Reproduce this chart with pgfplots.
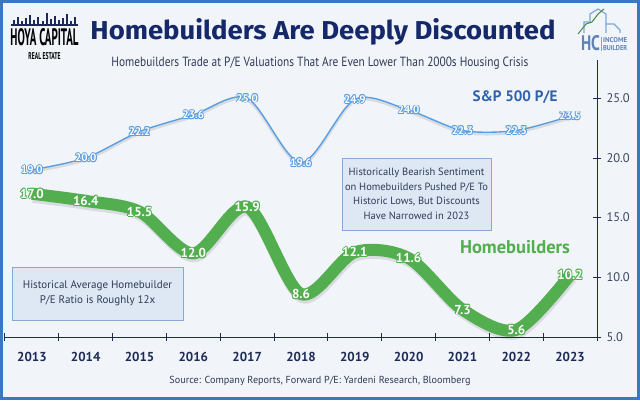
\documentclass[border=0pt]{standalone}
\usepackage{pgfplots}
\pgfplotsset{compat=1.18}
\usepackage{graphicx}
\usepackage{fontspec}
\setmainfont{PT Sans}
\newfontfamily\titlefont{Fira Sans}
\definecolor{navy}{HTML}{15296A}
\definecolor{ticknavy}{HTML}{1C2A55}
\definecolor{spblue}{HTML}{5A9EE2}
\definecolor{spdark}{HTML}{2E62AD}
\definecolor{hbgreen}{HTML}{52AE4E}
\definecolor{bg}{HTML}{F1F4F9}
\definecolor{framec}{HTML}{3B78C4}
\definecolor{boxfill}{HTML}{DEE8F5}
\definecolor{boxdraw}{HTML}{86A9D6}
\definecolor{txt}{HTML}{2E3A55}
\definecolor{ylab}{HTML}{3A4560}
\definecolor{logoblue}{HTML}{7FA8D8}

\newcommand\hshift[4]{\makebox[0pt]{\hspace*{#1}\raisebox{#2}{\textcolor{#3}{#4}}\hspace*{-#1}}}
\newcommand\halo[2]{%
  \hshift{0.9pt}{0pt}{#1}{#2}\hshift{-0.9pt}{0pt}{#1}{#2}%
  \hshift{0pt}{0.9pt}{#1}{#2}\hshift{0pt}{-0.9pt}{#1}{#2}%
  \hshift{0.65pt}{0.65pt}{#1}{#2}\hshift{-0.65pt}{0.65pt}{#1}{#2}%
  \hshift{0.65pt}{-0.65pt}{#1}{#2}\hshift{-0.65pt}{-0.65pt}{#1}{#2}%
  \makebox[0pt]{\textcolor{white}{#2}}}

\begin{document}
\begin{tikzpicture}[x=1pt,y=1pt]
\fill[bg] (0,0) rectangle (640,400);
\draw[framec, line width=3pt] (1.5,1.5) rectangle (638.5,398.5);

\begin{axis}[
  at={(5pt,63pt)}, anchor=south west,
  scale only axis, width=592pt, height=277pt,
  xmin=-0.5, xmax=10.5, ymin=5, ymax=28.2,
  axis x line*=bottom, axis y line*=right,
  axis line style={ticknavy, line width=1pt},
  clip=false,
  xtick={0,...,10},
  xticklabels={2013,2014,2015,2016,2017,2018,2019,2020,2021,2022,2023},
  minor xtick={-0.5,0.5,1.5,2.5,3.5,4.5,5.5,6.5,7.5,8.5,9.5,10.5},
  major x tick style={draw=none},
  minor tick length=8pt,
  minor x tick style={ticknavy, line width=1pt},
  tick align=center,
  major tick length=8pt,
  ytick={5,10,15,20,25},
  y tick style={ticknavy, line width=0.8pt},
  xticklabel style={font=\bfseries\fontsize{13}{13}\selectfont, text=ticknavy, yshift=-8pt},
  yticklabel style={font=\fontsize{12.5}{12.5}\selectfont, text=ylab, xshift=2pt},
  /pgf/number format/assume math mode=true,
  yticklabel={\pgfmathprintnumber[fixed,fixed zerofill,precision=1]{\tick}},
]
% shadows
\addplot[black, opacity=0.10, line width=2.5pt, smooth, yshift=-2pt] coordinates {
(0,19.0)(1,20.0)(2,22.2)(3,23.6)(4,25.0)(5,19.6)(6,24.9)(7,24.0)(8,22.3)(9,22.3)(10,23.5)};
\addplot[black, opacity=0.10, line width=12pt, smooth, yshift=-3pt, xshift=1pt] coordinates {
(0,17.0)(1,16.4)(2,15.5)(3,12.0)(4,15.9)(5,8.6)(6,12.1)(7,11.6)(8,7.3)(9,5.6)(10,10.2)};
% S&P 500
\addplot[spblue, line width=1.4pt, smooth,
  nodes near coords={\halo{spblue}{\pgfmathprintnumber[fixed,fixed zerofill,precision=1]{\pgfplotspointmeta}}},
  every node near coord/.style={anchor=center, font=\bfseries\fontsize{11}{11}\selectfont}]
coordinates {
(0,19.0)(1,20.0)(2,22.2)(3,23.6)(4,25.0)(5,19.6)(6,24.9)(7,24.0)(8,22.3)(9,22.3)(10,23.5)};
% Homebuilders
\addplot[hbgreen, line width=12pt, smooth,
  nodes near coords={\halo{hbgreen}{\pgfmathprintnumber[fixed,fixed zerofill,precision=1]{\pgfplotspointmeta}}},
  every node near coord/.style={anchor=center, font=\bfseries\fontsize{13}{13}\selectfont}]
coordinates {
(0,17.0)(1,16.4)(2,15.5)(3,12.0)(4,15.9)(5,8.6)(6,12.1)(7,11.6)(8,7.3)(9,5.6)(10,10.2)};
\end{axis}

% title and subtitle
\node[navy] at (323,400-31.5) {\resizebox{465pt}{21pt}{\titlefont\bfseries Homebuilders Are Deeply Discounted}};
\node[txt] at (320,400-63.5) {\resizebox{417pt}{9.5pt}{Homebuilders Trade at P/E Valuations That Are Even Lower Than 2000s Housing Crisis}};

% series labels
\node[spdark] at (515,400-97) {\resizebox{85pt}{!}{\bfseries S\&P 500 P/E}};
\node[hbgreen] at (515,400-247) {\resizebox{110pt}{!}{\bfseries Homebuilders}};

% annotation boxes
\draw[boxdraw, fill=boxfill, line width=0.8pt] (12,80) rectangle (183,133);
\node[txt, align=center, font=\fontsize{11}{15}\selectfont] at (97.5,106.5) {Historical Average Homebuilder\\P/E Ratio is Roughly 12x};
\draw[boxdraw, fill=boxfill, line width=0.8pt] (342,170) rectangle (491,242);
\node[txt, align=center, font=\fontsize{10.5}{14.5}\selectfont] at (416.5,206) {Historically Bearish Sentiment\\on Homebuilders Pushed P/E To\\Historic Lows, But Discounts\\Have Narrowed in 2023};

% source
\node[txt] at (320,400-381) {\resizebox{301pt}{!}{Source: Company Reports, Forward P/E: Yardeni Research, Bloomberg}};

% left logo
\fill[ticknavy] (11,400-26) rectangle (78,400-24);
\foreach \xx/\hh in {13/6,17/9,21/5,25/8,29/11,33/6,37/9,42/5,46/13,50/7,54/10,58/6,62/8,66/12,70/5,74/9}
  \fill[ticknavy] (\xx,400-26) rectangle ++(2,\hh);
\node[black] at (44.5,400-37.5) {\resizebox{68pt}{17pt}{\bfseries HOYA CAPITAL}};
\node[black] at (44.5,400-56) {\resizebox{32pt}{7pt}{\bfseries REAL ESTATE}};

% right logo
\draw[logoblue, line width=1.2pt] (584,400-33) -- (584,400-22) -- (590,400-22) -- (590,400-14) -- (598,400-9) -- (606,400-14) -- (606,400-33);
\draw[logoblue, line width=1.2pt] (606,400-24) -- (614,400-24) -- (620,400-30) -- (620,400-33);
\draw[hbgreen!80!black, line width=1pt] (578,400-34) -- (586,400-24) -- (592,400-22) -- (598,400-14) -- (604,400-9);
\node[logoblue!70!navy] at (590.5,400-43.5) {\resizebox{19pt}{15pt}{\bfseries HC}};
\draw[logoblue, line width=0.6pt] (601.5,400-37) -- (601.5,400-51);
\node[logoblue!70!navy, anchor=west, inner sep=0pt] at (603,400-40.5) {\resizebox{24pt}{5pt}{\bfseries INCOME}};
\node[logoblue!70!navy, anchor=west, inner sep=0pt] at (603,400-48) {\resizebox{24pt}{5pt}{\bfseries BUILDER}};
\end{tikzpicture}
\end{document}
